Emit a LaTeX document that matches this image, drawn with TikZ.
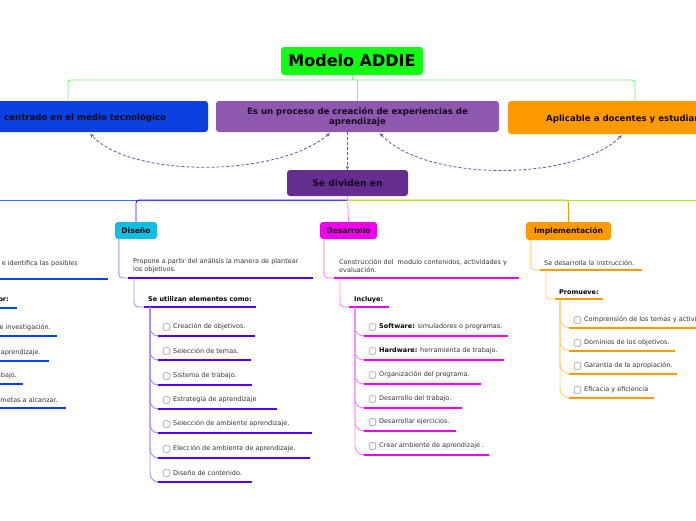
\documentclass[tikz,border=0pt]{standalone}
\usepackage{fontspec}
\setmainfont{DejaVu Sans}
\usetikzlibrary{arrows.meta,calc}
\definecolor{titlegreen}{RGB}{20,250,20}
\definecolor{glink}{RGB}{110,250,110}
\definecolor{bluebox}{RGB}{13,64,224}
\definecolor{purplebox}{RGB}{142,88,176}
\definecolor{orangebox}{RGB}{255,153,0}
\definecolor{darkpurple}{RGB}{102,45,145}
\definecolor{dasharrow}{RGB}{120,72,168}
\definecolor{cyanbox}{RGB}{18,190,224}
\definecolor{magbox}{RGB}{238,0,238}
\definecolor{violetline}{RGB}{85,0,255}
\definecolor{violetlite}{RGB}{168,136,255}
\definecolor{pinklite}{RGB}{255,130,255}
\definecolor{orangelite}{RGB}{255,205,110}
\definecolor{blueline}{RGB}{0,68,238}
\definecolor{bluelink}{RGB}{48,112,255}
\definecolor{limelink}{RGB}{168,236,30}
\definecolor{textgray}{RGB}{51,51,51}
\definecolor{boxtext}{RGB}{20,10,30}
\begin{document}
\begin{tikzpicture}[x=1pt,y=-1pt,
  box/.style={rounded corners=3pt, inner sep=0, draw=none},
  boxlabel/.style={font=\bfseries\fontsize{8.6}{10}\selectfont, text=boxtext, inner sep=0},
  smalllabel/.style={font=\bfseries\fontsize{7.6}{9}\selectfont, text=boxtext, inner sep=0},
  txt/.style={font=\fontsize{6.5}{8}\selectfont, text=textgray, anchor=west, inner sep=0, align=left},
  txte/.style={txt, anchor=east},
  hdr/.style={font=\bfseries\fontsize{6.5}{8}\selectfont, text=black, anchor=west, inner sep=0},
  cbox/.style={draw=gray!75, rounded corners=1pt, minimum size=6.5pt, inner sep=0, line width=0.6pt, fill=white},
  thin/.style={line width=0.9pt},
  thick/.style={line width=2pt},
  darr/.style={dasharrow, line width=0.8pt, dash pattern=on 3pt off 2pt, {Stealth[length=4pt,width=3.5pt]}-{Stealth[length=4pt,width=3.5pt]}}
]
\useasboundingbox (0,0) rectangle (696,520);
\clip (0,0) rectangle (696,520);
\fill[white] (0,0) rectangle (696,520);

% ---------- top level ----------
\node[box, fill=titlegreen, minimum width=142, minimum height=28,
      font=\bfseries\fontsize{16}{19}\selectfont] (title) at (352,61) {Modelo ADDIE};

\node[box, fill=bluebox, minimum width=308, minimum height=31] (lbox) at (54,116.5) {};
\node[boxlabel, anchor=west] (ltext) at (4,117.5) {centrado en el medio tecnológico};

\node[box, fill=purplebox, minimum width=283, minimum height=31] (mbox) at (357.5,116.5) {};
\node[boxlabel, align=center] (mtext) at (357.5,117) {Es un proceso de creación de experiencias de\\aprendizaje};

\node[box, fill=orangebox, minimum width=292, minimum height=33] (rbox) at (654,117.5) {};
\node[boxlabel, anchor=west] (rtext) at (546,119) {Aplicable a docentes y estudiantes};

\coordinate (hj) at (352,80);
\coordinate (lbtop) at (68,101);
\coordinate (rbtop) at (635,101);
\draw[glink, thin] (title.south) -- (hj);
\draw[glink, thin, rounded corners=3pt] (lbtop) |- (rbtop |- hj) -- (rbtop);
\draw[glink, thin] (mbox.north |- hj) -- (mbox.north);

% ---------- Se dividen en ----------
\node[box, fill=darkpurple, minimum width=121, minimum height=26,
      font=\bfseries\fontsize{9.2}{11}\selectfont, text=boxtext] (sdiv) at (347.5,183) {Se dividen en};

\draw[darr] ($(mbox.south west)+(114,1)$) .. controls (277,178) and (130,178) .. ($(lbox.south east)+(-118,1.5)$);
\draw[darr] ($(mbox.south west)+(164,1)$) .. controls (425,182) and (574,182) .. ($(rbox.south west)+(114,1)$);
\draw[dasharrow, line width=0.8pt, dash pattern=on 3pt off 2pt, -{Stealth[length=4pt,width=3.5pt]}]
   (mbox.south -| sdiv.north) -- (sdiv.north);

% ---------- second level boxes ----------
\node[box, fill=cyanbox, minimum width=42, minimum height=17, smalllabel] (dis) at (136,230.5) {Diseño};
\node[box, fill=magbox, minimum width=57, minimum height=17, smalllabel] (des) at (348.5,230.5) {Desarrollo};
\node[box, fill=orangebox, minimum width=85, minimum height=18, smalllabel] (imp) at (568.5,231) {Implementación};

\coordinate (bj) at (347.5,200);
\draw[bluelink, thin] (sdiv.south) |- (-10,200);
\draw[orangebox, thin, rounded corners=3pt] (bj) -| (imp.north);
\draw[limelink, thin] (sdiv.south) |- (706,200);
\draw[violetline, thin, rounded corners=3pt] (bj) -| (dis.north);
\draw[pinklite, thin] (sdiv.south) -- (des.north);

% ---------- Análisis (cut off at left) ----------
\foreach \t/\xe/\y [count=\i] in {{e identifica las posibles}/78/264,
   {de investigación.}/51/328, {aprendizaje.}/41/353,
   {trabajo.}/17/376, {metas a alcanzar.}/58/400}{
  \node[txte] (an\i) at (\xe,\y) {\t};
}
\node[hdr, anchor=east] (anh) at (9,300) {or:};
\foreach \y/\ue [count=\i] in {279/108, 308/17, 336/57, 361/49, 384/23, 408/66}{
  \coordinate (anu\i) at (-5,\y);
  \draw[blueline, thick] (anu\i) -- (\ue,\y);
}

% ---------- Diseño ----------
\coordinate (du1) at (128,278);
\coordinate (du2) at (144,307);
\draw[violetlite, thin, rounded corners=4pt] ($(dis.south west)+(4,0)$) |- (du1);
\draw[violetline, thick] (du1) -- (313,278);
\node[txt] (dt1) at (133,266) {Propone a partir del análisis la manera de plantear\\los objetivos.};
\draw[violetlite, thin, rounded corners=4pt] (134,278) |- (du2);
\draw[violetline, thick] (du2) -- (256,307);
\node[hdr] (dt2) at (148,299.5) {Se utilizan elementos como:};
\foreach \t/\y/\e [count=\i] in {{Creación de objetivos.}/327/255,
   {Selección de temas.}/351/251, {Sistema de trabajo.}/376/252,
   {Estrategia de aprendizaje}/400/277, {Selección de ambiente aprendizaje.}/424/312,
   {Elección de ambiente de aprendizaje.}/449/310, {Diseño de contenido.}/473/252}{
  \pgfmathsetmacro{\uy}{\y+9}
  \coordinate (dsu\i) at (158,\uy);
  \draw[violetlite, thin] (150,307) -- (150,\uy-9) to[out=-90,in=180] (dsu\i);
  \draw[violetline, thick] (dsu\i) -- (\e,\uy);
  \node[cbox] (dsc\i) at (166.5,\y) {};
  \node[txt] (dst\i) at (173,\y) {\t};
}

% ---------- Desarrollo ----------
\coordinate (eu1) at (334,278);
\coordinate (eu2) at (349,307);
\draw[pinklite, thin, rounded corners=4pt] ($(des.south west)+(4,0)$) |- (eu1);
\draw[magbox, thick] (eu1) -- (519,278);
\node[txt] (et1) at (339,266) {Construcción del\ \ modulo contenidos, actividades y\\evaluación.};
\draw[pinklite, thin, rounded corners=4pt] (340,278) |- (eu2);
\draw[magbox, thick] (eu2) -- (389,307);
\node[hdr] (et2) at (354,299.5) {Incluye:};
\foreach \t/\y/\e [count=\i] in {{\textbf{\color{black}Software:} simuladores o programas.}/327/508,
   {\textbf{\color{black}Hardware:} herramienta de trabajo.}/351/504,
   {Organización del programa.}/375/481, {Desarrollo del trabajo.}/399/462,
   {Desarrollar ejercicios.}/422/456, {Crear ambiente de aprendizaje .}/446/489}{
  \pgfmathsetmacro{\uy}{\y+9}
  \coordinate (esu\i) at (364,\uy);
  \draw[pinklite, thin] (355,307) -- (355,\uy-9) to[out=-90,in=180] (esu\i);
  \draw[magbox, thick] (esu\i) -- (\e,\uy);
  \node[cbox] (esc\i) at (372.5,\y) {};
  \node[txt] (est\i) at (379,\y) {\t};
}

% ---------- Implementación ----------
\coordinate (iu1) at (540,270);
\coordinate (iu2) at (555,299);
\draw[orangelite, thin, rounded corners=4pt] ($(imp.south west)+(5,0)$) |- (iu1);
\draw[orangebox, thick] (iu1) -- (642,270);
\node[txt] (it1) at (544,263) {Se desarrolla la instrucción.};
\draw[orangelite, thin, rounded corners=4pt] (546,270) |- (iu2);
\draw[orangebox, thick] (iu2) -- (603,299);
\node[hdr] (it2) at (559,292) {Promueve:};
\foreach \t/\y/\e [count=\i] in {{Comprensión de los temas y actividades}/320/706,
   {Dominios de los objetivos.}/343/675, {Garantía de la apropiación.}/366/677,
   {Eficacia y eficiencia}/390/654}{
  \pgfmathsetmacro{\uy}{\y+7.5}
  \coordinate (isu\i) at (569,\uy);
  \draw[orangelite, thin] (560,299) -- (560,\uy-9) to[out=-90,in=180] (isu\i);
  \draw[orangebox, thick] (isu\i) -- (\e,\uy);
  \node[cbox] (isc\i) at (577.5,\y) {};
  \node[txt] (ist\i) at (584,\y) {\t};
}
\end{tikzpicture}
\end{document}
